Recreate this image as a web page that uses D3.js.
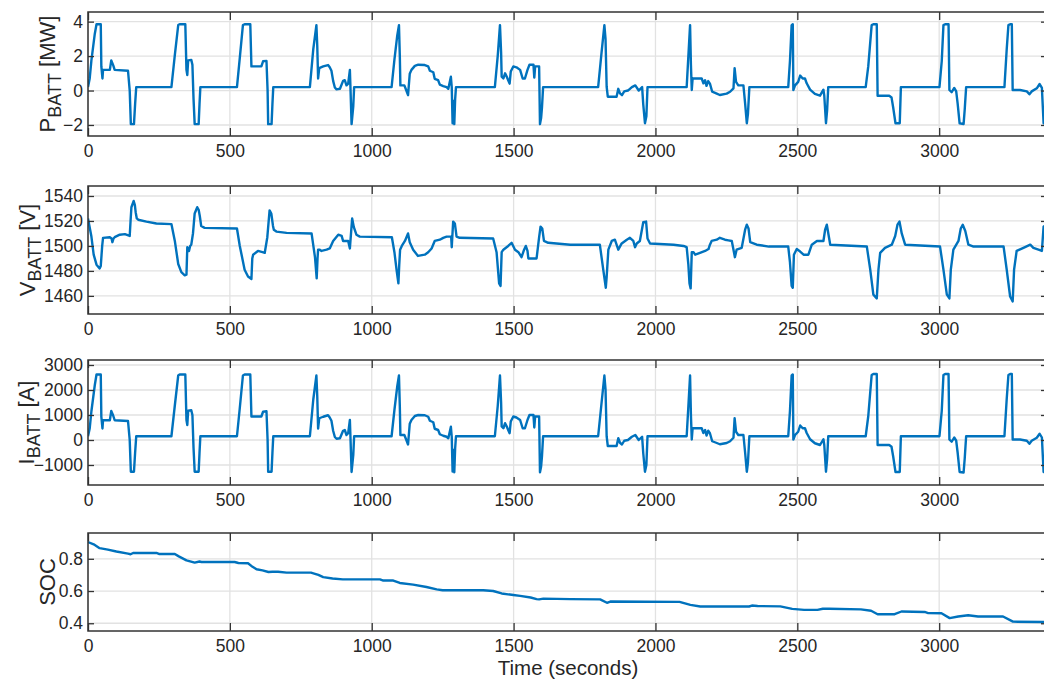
<!DOCTYPE html>
<html>
<head>
<meta charset="utf-8">
<script src="https://cdn.jsdelivr.net/npm/d3@7"></script>
<style>
  html, body { margin: 0; padding: 0; background: #ffffff; }
  svg { display: block; }
  text { font-family: "Liberation Sans", Arial, Helvetica, sans-serif; fill: #262626; }
</style>
</head>
<body>
<script>
// Battery power [MW] vs time [s]
const powerMW = [
  [0,0.2],[6,0.7],[12,1.75],[24,3.3],[30,3.85],[45,3.85],[47,1.4],[51,0.7],[53,1.2],[77,1.2],[82,1.75],[89,1.46],[94,1.2],[141,1.15],[147,0.0],[151,-1.95],[162,-1.95],[166,-0.8],[170,0.2],
  [294,0.2],[306,2.05],[318,3.8],[323,3.85],[343,3.85],[347,1.2],[350,0.9],[353,1.75],[364,1.78],[368,1.5],[372,-0.5],[376,-1.95],[390,-1.95],[393,-0.8],[396,0.2],
  [525,0.2],[535,1.9],[546,3.8],[552,3.85],[572,3.85],[576,1.4],[611,1.4],[617,1.7],[629,1.72],[633,0.0],[635,-1.95],[647,-1.95],[650,-0.8],[653,0.2],
  [782,0.2],[794,2.4],[805,3.8],[808,2.6],[811,0.7],[815,1.3],[829,1.4],[846,1.48],[852,1.35],[858,1.15],[864,0.56],[870,0.18],[876,0.07],[888,0.1],[899,0.56],[905,0.6],[911,0.3],[917,0.4],[923,1.2],[925,0.2],[929,-1.95],[935,-0.9],[938,0.2],
  [1070,0.2],[1080,1.8],[1090,3.2],[1096,3.8],[1099,2.0],[1101,0.3],[1115,0.3],[1122,0.0],[1128,-0.27],[1134,0.97],[1140,1.2],[1152,1.43],[1164,1.5],[1187,1.48],[1199,1.4],[1205,1.15],[1217,1.06],[1222,0.68],[1234,0.6],[1240,0.34],[1252,0.26],[1264,0.2],[1270,0.1],[1279,0.8],[1282,0.2],[1285,-1.9],[1289,-0.6],[1291,-1.95],[1294,-0.5],[1297,0.2],
  [1434,0.2],[1444,2.0],[1452,3.8],[1456,2.2],[1458,0.8],[1464,0.7],[1470,1.0],[1476,0.8],[1481,0.6],[1486,0.4],[1490,1.1],[1499,1.4],[1510,1.35],[1523,1.2],[1532,0.7],[1540,0.7],[1549,1.2],[1556,1.5],[1570,1.5],[1573,0.75],[1576,1.4],[1590,1.4],[1593,-1.95],[1597,-1.6],[1600,-1.0],[1604,0.2],
  [1798,0.2],[1810,2.2],[1820,3.8],[1824,3.0],[1828,0.22],[1832,-0.36],[1863,-0.36],[1869,0.1],[1875,-0.17],[1882,-0.27],[1890,-0.05],[1903,0.0],[1917,0.2],[1929,0.3],[1941,0.0],[1953,0.2],[1957,-0.8],[1963,-1.9],[1968,-1.5],[1972,0.2],
  [2110,0.2],[2116,2.0],[2122,3.8],[2125,1.5],[2128,0.03],[2131,0.7],[2163,0.7],[2169,0.42],[2175,0.6],[2180,0.27],[2186,0.55],[2192,0.4],[2200,-0.07],[2214,-0.16],[2227,-0.26],[2251,-0.18],[2263,-0.07],[2275,0.13],[2279,1.3],[2284,0.5],[2292,0.3],[2310,0.3],[2316,-0.75],[2322,-1.9],[2326,-1.35],[2331,0.2],
  [2468,0.2],[2474,1.7],[2480,3.8],[2484,3.85],[2486,0.03],[2492,0.3],[2503,0.5],[2510,0.87],[2519,0.7],[2527,0.7],[2533,0.42],[2545,0.05],[2562,-0.2],[2580,-0.3],[2592,0.05],[2595,-0.3],[2601,-1.9],[2605,-1.15],[2609,0.2],
  [2741,0.2],[2750,1.4],[2762,3.8],[2768,3.85],[2780,3.85],[2783,-0.3],[2824,-0.3],[2832,-0.4],[2838,-1.0],[2846,-1.9],[2861,-1.9],[2865,0.2],
  [3001,0.2],[3009,1.7],[3015,3.8],[3021,3.85],[3033,3.85],[3036,0.03],[3044,-0.1],[3053,0.15],[3060,-0.05],[3065,-0.75],[3072,-1.9],[3086,-1.95],[3090,-1.1],[3095,0.2],
  [3230,0.2],[3238,2.4],[3244,3.8],[3250,3.85],[3256,3.85],[3259,0.03],[3285,0.03],[3309,-0.05],[3318,-0.22],[3326,-0.05],[3344,0.13],[3354,0.38],[3362,0.15],[3368,-1.9],[3380,-1.95]
];

// Battery terminal voltage [V] vs time [s]
const voltageV = [
  [0,1522],[12,1507.5],[20,1493],[30,1485],[41,1482],[45,1484],[50,1500],[53,1506.5],[77,1507],[83,1506],[86,1503],[90,1506],[94,1507],[112,1509],[130,1509.5],[147,1508],[150,1520],[153,1531],[161,1536],[165,1533],[168,1527],[172,1522],[177,1521],[206,1519.5],[241,1518],[294,1517.5],
  [306,1504],[318,1485.5],[329,1479],[341,1476.5],[347,1477],[350,1499],[352,1496],[356,1496],[360,1500],[364,1501],[370,1510],[376,1526],[385,1531],[390,1529],[394,1524],[399,1516],[411,1514.5],[525,1514],
  [535,1500],[552,1481],[564,1475.5],[576,1473.5],[579,1490],[582,1493],[599,1496],[615,1495],[623,1494.5],[632,1507],[640,1528.5],[646,1526],[652,1516],[655,1513],[664,1511.5],[700,1510.5],[788,1510],
  [800,1491],[806,1474],[809,1490],[811,1497],[817,1497],[823,1496],[841,1497],[852,1498],[864,1504],[882,1509],[894,1508],[899,1504],[917,1504],[923,1498],[927,1510],[931,1522],[937,1515],[946,1509],[958,1507.5],[1071,1507],
  [1080,1495],[1088,1480],[1094,1470],[1097,1485],[1100,1497],[1106,1500],[1117,1504],[1128,1510],[1134,1503],[1146,1497],[1163,1492],[1187,1493],[1199,1495],[1211,1498],[1222,1504],[1240,1505],[1252,1506.5],[1264,1507.5],[1280,1507.5],[1282,1499],[1287,1519.5],[1293,1518],[1299,1507.5],[1310,1506.5],[1428,1506],
  [1440,1495],[1449,1470],[1454,1468],[1458,1495],[1464,1497],[1481,1500],[1493,1502.5],[1505,1497],[1517,1495],[1528,1491],[1537,1497],[1543,1500],[1549,1496],[1552,1490],[1581,1490],[1590,1507],[1595,1515.5],[1601,1514],[1607,1504],[1622,1502.5],[1700,1501],[1804,1501],
  [1816,1481],[1825,1466.5],[1828,1475],[1834,1497],[1846,1504],[1857,1505],[1863,1501],[1869,1497],[1881,1502],[1899,1505],[1910,1506.5],[1922,1504],[1928,1499],[1934,1502],[1945,1504],[1957,1519],[1967,1519.5],[1972,1506],[1981,1502],[2064,1501],[2099,1500],[2110,1499],
  [2116,1485],[2120,1470],[2124,1466],[2128,1495],[2134,1495],[2140,1493],[2157,1494.5],[2175,1496],[2187,1497.5],[2192,1501],[2198,1504],[2216,1505],[2227,1506.5],[2245,1505],[2257,1504.5],[2269,1504],[2275,1497],[2280,1491],[2286,1497],[2304,1498.5],[2316,1513],[2322,1517],[2328,1514],[2334,1503],[2357,1501],[2400,1499.5],[2468,1499.5],
  [2474,1487],[2480,1468],[2484,1466.5],[2488,1493],[2498,1497.5],[2510,1495.5],[2522,1493],[2539,1493],[2551,1501],[2569,1504],[2592,1504],[2598,1513],[2604,1517],[2610,1509],[2616,1501],[2745,1499.5],
  [2757,1481],[2768,1461],[2780,1458],[2786,1481],[2792,1494.5],[2809,1498.5],[2833,1501],[2845,1508],[2853,1517],[2860,1519.5],[2868,1510],[2880,1501],[3003,1499.5],
  [3015,1481],[3027,1461],[3036,1458],[3041,1481],[3050,1497],[3068,1504],[3076,1514],[3083,1517],[3092,1512],[3103,1501],[3121,1499.5],[3227,1499.5],
  [3238,1481],[3250,1459.5],[3259,1455.5],[3264,1481],[3273,1496],[3297,1498.5],[3321,1501],[3332,1498.5],[3350,1497],[3362,1496],[3368,1515.5],[3380,1517]
];

// Battery current [A] vs time [s]
const currentA = [
  [0,150],[6,460],[12,1150],[24,2200],[30,2620],[45,2620],[47,930],[51,460],[53,790],[77,790],[82,1160],[89,970],[94,790],[141,760],[147,0],[151,-1270],[162,-1270],[166,-520],[170,150],
  [294,150],[306,1380],[318,2580],[323,2620],[343,2620],[347,800],[350,600],[353,1170],[364,1190],[368,1000],[372,-330],[376,-1270],[390,-1270],[393,-520],[396,150],
  [525,150],[535,1280],[546,2580],[552,2620],[572,2620],[576,940],[611,940],[617,1130],[629,1150],[633,0],[635,-1270],[647,-1270],[650,-520],[653,150],
  [782,150],[794,1620],[805,2580],[808,1750],[811,460],[815,870],[829,930],[846,990],[852,900],[858,770],[864,370],[870,120],[876,50],[888,70],[899,370],[905,400],[911,200],[917,270],[923,800],[925,130],[929,-1280],[935,-600],[938,150],
  [1070,150],[1080,1200],[1090,2150],[1096,2580],[1099,1350],[1101,200],[1115,200],[1122,0],[1128,-180],[1134,650],[1140,800],[1152,960],[1164,1000],[1187,990],[1199,930],[1205,770],[1217,710],[1222,450],[1234,400],[1240,230],[1252,170],[1264,130],[1270,70],[1279,530],[1282,130],[1285,-1260],[1289,-400],[1291,-1290],[1294,-330],[1297,150],
  [1434,150],[1444,1350],[1452,2580],[1456,1500],[1458,540],[1464,470],[1470,670],[1476,540],[1481,400],[1486,270],[1490,740],[1499,940],[1510,900],[1523,800],[1532,470],[1540,470],[1549,800],[1556,1000],[1570,1000],[1573,500],[1576,940],[1590,940],[1593,-1290],[1597,-1060],[1600,-660],[1604,150],
  [1798,150],[1810,1480],[1820,2580],[1824,2030],[1828,150],[1832,-240],[1863,-240],[1869,70],[1875,-110],[1882,-180],[1890,-30],[1903,0],[1917,130],[1929,200],[1941,0],[1953,130],[1957,-530],[1963,-1270],[1968,-1000],[1972,150],
  [2110,150],[2116,1350],[2122,2580],[2125,1000],[2128,20],[2131,470],[2163,470],[2169,280],[2175,400],[2180,180],[2186,370],[2192,270],[2200,-50],[2214,-110],[2227,-170],[2251,-120],[2263,-50],[2275,90],[2279,870],[2284,330],[2292,200],[2310,200],[2316,-500],[2322,-1270],[2326,-900],[2331,150],
  [2468,150],[2474,1150],[2480,2580],[2484,2620],[2486,20],[2492,200],[2503,330],[2510,580],[2519,470],[2527,470],[2533,280],[2545,30],[2562,-130],[2580,-200],[2592,30],[2595,-200],[2601,-1270],[2605,-770],[2609,150],
  [2741,150],[2750,950],[2762,2600],[2768,2640],[2780,2640],[2783,-200],[2824,-200],[2832,-270],[2838,-670],[2846,-1280],[2861,-1280],[2865,150],
  [3001,150],[3009,1160],[3015,2600],[3021,2640],[3033,2640],[3036,20],[3044,-70],[3053,100],[3060,-30],[3065,-500],[3072,-1280],[3086,-1300],[3090,-740],[3095,150],
  [3230,150],[3238,1640],[3244,2600],[3250,2640],[3256,2640],[3259,20],[3285,20],[3309,-30],[3318,-150],[3326,-30],[3344,90],[3354,250],[3362,100],[3368,-1280],[3380,-1300]
];

// Battery state of charge vs time [s]
const stateOfCharge = [
  [0,0.904],[20,0.89],[41,0.866],[70,0.857],[100,0.845],[141,0.832],[150,0.828],[159,0.836],[241,0.836],[250,0.83],[306,0.83],[320,0.815],[347,0.79],[376,0.776],[393,0.783],[400,0.78],[517,0.78],[530,0.774],[564,0.772],[580,0.75],[594,0.735],[615,0.728],[636,0.718],[650,0.72],[670,0.72],[700,0.714],[786,0.714],[800,0.707],[812,0.7],[829,0.686],[862,0.678],[898,0.672],[1029,0.672],[1041,0.665],[1076,0.665],[1099,0.65],[1146,0.64],[1193,0.625],[1229,0.61],[1250,0.605],[1393,0.605],[1428,0.6],[1458,0.585],[1499,0.575],[1523,0.57],[1560,0.56],[1581,0.55],[1590,0.548],[1605,0.553],[1700,0.55],[1805,0.548],[1829,0.527],[1841,0.535],[2085,0.533],[2123,0.514],[2158,0.504],[2330,0.504],[2340,0.51],[2360,0.507],[2440,0.505],[2482,0.489],[2524,0.483],[2571,0.483],[2590,0.49],[2612,0.49],[2724,0.486],[2760,0.478],[2783,0.456],[2843,0.456],[2867,0.473],[2949,0.47],[2961,0.463],[3008,0.462],[3037,0.432],[3067,0.442],[3102,0.45],[3137,0.442],[3225,0.442],[3260,0.41],[3380,0.408]
];

// Axis ticks
const timeTicks = [0, 500, 1000, 1500, 2000, 2500, 3000];
const powerTicks = [-2, 0, 2, 4];
const voltageTicks = [1460, 1480, 1500, 1520, 1540];
const currentTicks = [-1000, 0, 1000, 2000, 3000];
const socTicks = [0.4, 0.6, 0.8];

const W = 1044, H = 682;
const left = 88, right = 1047;
const lineColor = "#0072BD";
const axisColor = "#333333";
const gridColor = "#e2e2e2";
const tickFont = 17.5;

const x = d3.scaleLinear().domain([0, 3380]).range([left, right]);

const panels = [
  { data: powerMW,       top: 12,  bottom: 136, domain: [-2.64, 4.56],   ticks: powerTicks,   fmt: d3.format("d"),   label: ["P", "BATT", " [MW]"], labelX: 55 },
  { data: voltageV,      top: 186, bottom: 314, domain: [1445.5, 1548],  ticks: voltageTicks, fmt: d3.format("d"),   label: ["V", "BATT", " [V]"],  labelX: 35 },
  { data: currentA,      top: 360, bottom: 485, domain: [-1800, 3200],   ticks: currentTicks, fmt: d3.format("d"),   label: ["I", "BATT", " [A]"],  labelX: 34 },
  { data: stateOfCharge, top: 533, bottom: 631, domain: [0.352, 0.96],   ticks: socTicks,     fmt: d3.format(".1f"), label: ["SOC"],                 labelX: 55 }
];

const svg = d3.select("body").append("svg")
  .attr("width", W).attr("height", H)
  .attr("viewBox", `0 0 ${W} ${H}`);

panels.forEach((p, i) => {
  const y = d3.scaleLinear().domain(p.domain).range([p.bottom, p.top]);
  const g = svg.append("g").attr("class", "panel");

  const clipId = "clip" + i;
  svg.append("clipPath").attr("id", clipId)
    .append("rect").attr("x", left).attr("y", p.top)
    .attr("width", right - left).attr("height", p.bottom - p.top);

  // grid
  g.append("g").selectAll("line").data(timeTicks).join("line")
    .attr("x1", d => x(d)).attr("x2", d => x(d))
    .attr("y1", p.top).attr("y2", p.bottom)
    .attr("stroke", gridColor).attr("stroke-width", 1.3);
  g.append("g").selectAll("line").data(p.ticks).join("line")
    .attr("x1", left).attr("x2", right)
    .attr("y1", d => y(d)).attr("y2", d => y(d))
    .attr("stroke", gridColor).attr("stroke-width", 1.3);

  // data line
  const line = d3.line().x(d => x(d[0])).y(d => y(d[1]));
  g.append("path").datum(p.data)
    .attr("clip-path", `url(#${clipId})`)
    .attr("fill", "none").attr("stroke", lineColor)
    .attr("stroke-width", 2.4).attr("stroke-linejoin", "round")
    .attr("d", line);

  // axes: bottom with labels, top/left/right with inward ticks only
  const xb = g.append("g").attr("transform", `translate(0,${p.bottom})`)
    .call(d3.axisBottom(x).tickValues(timeTicks).tickSize(-8).tickPadding(9).tickFormat(d3.format("d")));
  const xt = g.append("g").attr("transform", `translate(0,${p.top})`)
    .call(d3.axisTop(x).tickValues(timeTicks).tickSize(-8).tickFormat(""));
  const yl = g.append("g").attr("transform", `translate(${left},0)`)
    .call(d3.axisLeft(y).tickValues(p.ticks).tickSize(-6).tickPadding(5).tickFormat(p.fmt));
  const yr = g.append("g").attr("transform", `translate(${right},0)`)
    .call(d3.axisRight(y).tickValues(p.ticks).tickSize(-6).tickFormat(""));

  [xb, xt, yl, yr].forEach(a => {
    a.select(".domain").remove();
    a.selectAll(".tick line").attr("stroke", axisColor).attr("stroke-width", 1.3);
    a.selectAll(".tick text").attr("font-size", tickFont).attr("fill", "#262626")
      .attr("font-family", "Liberation Sans, Arial, sans-serif");
  });

  // box
  g.append("rect").attr("x", left).attr("y", p.top)
    .attr("width", right - left).attr("height", p.bottom - p.top)
    .attr("fill", "none").attr("stroke", axisColor).attr("stroke-width", 1.5);

  // y label
  const cy = (p.top + p.bottom) / 2;
  const t = svg.append("text")
    .attr("transform", `translate(${p.labelX},${cy}) rotate(-90)`)
    .attr("text-anchor", "middle").attr("font-size", 22);
  t.append("tspan").text(p.label[0]);
  if (p.label.length > 1) {
    t.append("tspan").attr("font-size", 18).attr("dy", 6).text(p.label[1]);
    t.append("tspan").attr("dy", -6).text(p.label[2]);
  }
});

svg.append("text")
  .attr("x", 568).attr("y", 675)
  .attr("text-anchor", "middle").attr("font-size", 20.5)
  .text("Time (seconds)");
</script>
</body>
</html>
